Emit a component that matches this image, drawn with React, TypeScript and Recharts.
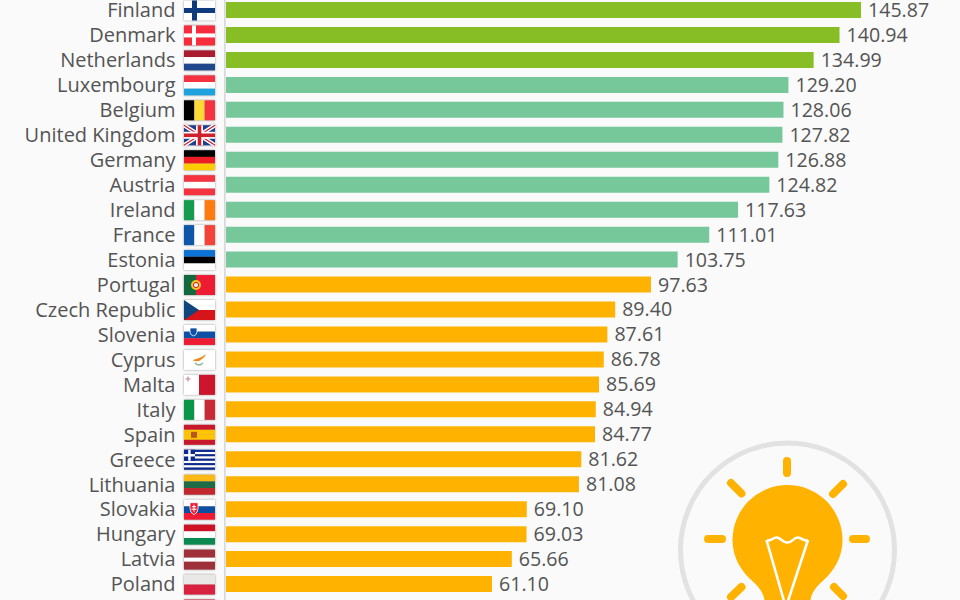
import React from "react";
import { Bar, BarChart, Cell, LabelList, XAxis, YAxis } from "recharts";

const countries = [
  "Finland", "Denmark", "Netherlands", "Luxembourg", "Belgium", "United Kingdom", "Germany",
  "Austria", "Ireland", "France", "Estonia", "Portugal", "Czech Republic", "Slovenia", "Cyprus",
  "Malta", "Italy", "Spain", "Greece", "Lithuania", "Slovakia", "Hungary", "Latvia", "Poland", "Croatia",
];
const scores = [
  145.87, 140.94, 134.99, 129.2, 128.06, 127.82, 126.88, 124.82, 117.63, 111.01, 103.75, 97.63,
  89.4, 87.61, 86.78, 85.69, 84.94, 84.77, 81.62, 81.08, 69.1, 69.03, 65.66, 61.1, 58.5,
];

const data = countries.map((name, i) => ({ name, score: scores[i] }));

const colorFor = (v: number) => (v > 130 ? "#87bd25" : v > 100 ? "#76c79a" : "#ffb300");

const FONT = "'Open Sans', sans-serif";
const TEXT = "#545454";

// x, y of the flag box, w 31 h 20
const hStripes = (cols: string[]) =>
  cols.map((c, i) => <rect key={i} x={0} y={(i * 20) / cols.length} width={31} height={20 / cols.length} fill={c} />);
const vStripes = (cols: string[]) =>
  cols.map((c, i) => <rect key={i} x={(i * 31) / cols.length} y={0} width={31 / cols.length} height={20} fill={c} />);

const flags: Record<string, React.ReactNode> = {
  Finland: (
    <>
      <rect width={31} height={20} fill="#fff" />
      <rect x={8} width={5} height={20} fill="#0f3b7d" />
      <rect y={7.5} width={31} height={5} fill="#0f3b7d" />
    </>
  ),
  Denmark: (
    <>
      <rect width={31} height={20} fill="#f72d3e" />
      <rect x={8} width={4} height={20} fill="#fff" />
      <rect y={8} width={31} height={4} fill="#fff" />
    </>
  ),
  Netherlands: hStripes(["#a91d2e", "#ffffff", "#20468b"]),
  Luxembourg: hStripes(["#f5323f", "#ffffff", "#1fa3df"]),
  Belgium: vStripes(["#000000", "#fcd934", "#f5323f"]),
  "United Kingdom": (
    <>
      <rect width={31} height={20} fill="#1c3f94" />
      <path d="M0 0L31 20M31 0L0 20" stroke="#fff" strokeWidth={4} />
      <path d="M0 0L31 20M31 0L0 20" stroke="#d0202e" strokeWidth={1.3} />
      <rect x={12} width={7} height={20} fill="#fff" />
      <rect y={6.5} width={31} height={7} fill="#fff" />
      <rect x={13.7} width={3.6} height={20} fill="#d0202e" />
      <rect y={8.2} width={31} height={3.6} fill="#d0202e" />
    </>
  ),
  Germany: hStripes(["#000000", "#ee1c25", "#ffcc00"]),
  Austria: hStripes(["#f5323f", "#ffffff", "#f5323f"]),
  Ireland: vStripes(["#169b4f", "#ffffff", "#ff7b10"]),
  France: vStripes(["#0f56a8", "#ffffff", "#f4443a"]),
  Estonia: hStripes(["#0b72d6", "#000000", "#ffffff"]),
  Portugal: (
    <>
      <rect width={31} height={20} fill="#ee1c33" />
      <rect width={12} height={20} fill="#11693f" />
      <circle cx={12} cy={10} r={5} fill="#f7c51e" />
      <circle cx={12} cy={10} r={2.6} fill="#e8e8f0" stroke="#c8202f" />
    </>
  ),
  "Czech Republic": (
    <>
      <rect width={31} height={10} fill="#fff" />
      <rect y={10} width={31} height={10} fill="#d7141a" />
      <path d="M0 0L15 10L0 20Z" fill="#11457e" />
    </>
  ),
  Slovenia: (
    <>
      {hStripes(["#ffffff", "#0e50a5", "#ee1c33"])}
      <path d="M6 3h7v4q0 3-3.5 4q-3.5-1-3.5-4Z" fill="#0e50a5" stroke="#fff" strokeWidth={0.8} />
    </>
  ),
  Cyprus: (
    <>
      <rect width={31} height={20} fill="#fff" />
      <path d="M9 10q3-1 6-2q3-1 7-4q-1 3-4 5q-3 3-7 2q-2 0-2-1Z" fill="#ee8a1d" />
      <path d="M11 13q4 4 8 0" stroke="#8fb59c" strokeWidth={1.4} fill="none" />
    </>
  ),
  Malta: (
    <>
      <rect width={15} height={20} fill="#fff" />
      <rect x={15} width={16} height={20} fill="#cc162c" />
      <path d="M4 1.5v5M1.5 4h5" stroke="#c89aa0" strokeWidth={1.4} />
    </>
  ),
  Italy: vStripes(["#0a9648", "#ffffff", "#c92a36"]),
  Spain: (
    <>
      {hStripes(["#c9172b", "#ffc400", "#ffc400", "#c9172b"])}
      <rect x={7} y={7} width={6} height={6} fill="#b5561e" />
    </>
  ),
  Greece: (
    <>
      {hStripes(["#0d2a91", "#ffffff", "#0d2a91", "#ffffff", "#0d2a91", "#ffffff", "#0d2a91", "#ffffff", "#0d2a91"])}
      <rect width={11} height={11} fill="#0d2a91" />
      <rect x={4.2} width={2.4} height={11} fill="#fff" />
      <rect y={4.3} width={11} height={2.4} fill="#fff" />
    </>
  ),
  Lithuania: hStripes(["#fdb913", "#1f6b45", "#c1272d"]),
  Slovakia: (
    <>
      {hStripes(["#ffffff", "#0b4ea2", "#ee1c33"])}
      <path d="M6 3h8v6q0 4-4 6q-4-2-4-6Z" fill="#ee1c33" stroke="#fff" strokeWidth={0.8} />
      <path d="M10 5v7M8 7h4M7.5 9.5h5" stroke="#fff" strokeWidth={1} />
    </>
  ),
  Hungary: hStripes(["#cf1126", "#ffffff", "#0a8a50"]),
  Latvia: (
    <>
      <rect width={31} height={20} fill="#9e3039" />
      <rect y={8} width={31} height={4} fill="#fff" />
    </>
  ),
  Poland: hStripes(["#e9e8e6", "#d8203f"]),
  Croatia: hStripes(["#d3263a", "#ffffff", "#173a8c"]),
};

const CountryTick = ({ y, payload }: any) => (
  <g>
    <text x={175.5} y={y} dy={6.8} textAnchor="end" fontFamily={FONT} fontSize={20} fill={TEXT}>
      {payload.value}
    </text>
    <g transform={`translate(184 ${y - 10})`} style={{ filter: "drop-shadow(0 0.5px 1.2px rgba(0,0,0,0.4))" }}>
      {flags[payload.value]}
    </g>
  </g>
);

const Overlay = () => (
  <svg width={960} height={600} style={{ position: "absolute", left: 0, top: 0 }}>
    {/* axis line sits just left of the bars */}
    <rect x={224} y={0} width={1.7} height={600} fill="#d9d9d9" />
    <circle cx={787.5} cy={550} r={107} fill="none" stroke="#e2e2e2" strokeWidth={5} />
    <path
      d="M787.5 485a55 55 0 0 1 55 55c0 18-9 32-22 43c-6 6-10 12-10 19h-46c0-7-4-13-10-19c-13-11-22-25-22-43a55 55 0 0 1 55-55Z"
      fill="#ffb300"
    />
    <path
      d="M767 540C771 542 773 537 777 537.500C781 538 783 543 787.500 542.500C792 543 794 537 798 537.500C802 538 804 542 808 540M766.500 540L784 601M808 540L788 601"
      fill="none"
      stroke="#fff"
      strokeWidth={2.6}
    />
    <path
      d="M787 461V473M708 539H722M853 539H866M731 483L741.500 493.500M843 484L833 494M741.500 587L731 597M834 587L843 596"
      stroke="#ffb300"
      strokeWidth={8}
      strokeLinecap="round"
    />
  </svg>
);

export default function App() {
  return (
    <div style={{ position: "fixed", left: 0, top: 0, width: 960, height: 600, overflow: "hidden", background: "#fafafa" }}>
      <div style={{ position: "absolute", left: 0, top: -2.5 }}>
        <BarChart
          width={960}
          height={624}
          data={data}
          layout="vertical"
          margin={{ top: 0, right: 37.5, bottom: 0, left: 0 }}
        >
          <XAxis type="number" domain={[0, 160]} hide />
          <YAxis
            type="category"
            dataKey="name"
            width={226}
            interval={0}
            tickLine={false}
            axisLine={false}
            tick={<CountryTick />}
          />
          <Bar dataKey="score" barSize={16} isAnimationActive={false}>
            {data.map((d) => (
              <Cell key={d.name} fill={colorFor(d.score)} />
            ))}
            <LabelList
              dataKey="score"
              position="right"
              offset={7}
              formatter={(v: any) => Number(v).toFixed(2)}
              style={{ fontFamily: FONT, fontSize: 19.6, fill: TEXT }}
            />
          </Bar>
        </BarChart>
      </div>
      <Overlay />
    </div>
  );
}
